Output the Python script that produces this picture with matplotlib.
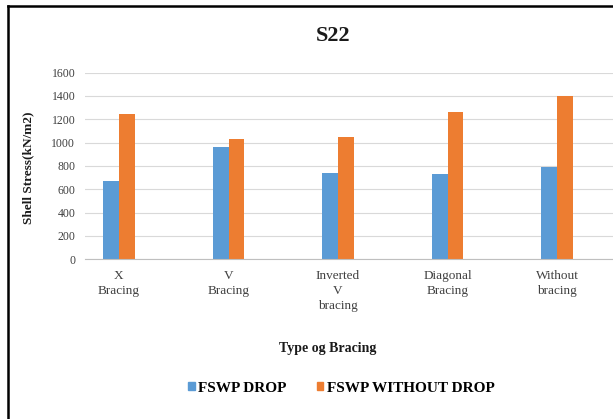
import matplotlib
matplotlib.use('Agg')
import matplotlib.pyplot as plt
import numpy as np
from matplotlib.lines import Line2D
from matplotlib.patches import Patch

categories = ['X\nBracing', 'V\nBracing', 'Inverted\nV\nbracing', 'Diagonal\nBracing', 'Without\nbracing']
fswp_drop = [672, 965, 738, 735, 795]
fswp_without_drop = [1243, 1030, 1050, 1260, 1400]
yticks = [0, 200, 400, 600, 800, 1000, 1200, 1400, 1600]

blue = '#5B9BD5'
orange = '#ED7D31'

plt.rcParams['font.family'] = ['Liberation Serif', 'DejaVu Serif']

W, H = 613, 419
fig = plt.figure(figsize=(W / 100, H / 100), dpi=100)
ax = fig.add_axes([85 / W, 1 - 259.3 / H, (W - 85) / W, (259.3 - 72.6) / H])

x = np.arange(len(categories))
w = 0.145
ax.bar(x - w / 2, fswp_drop, w, color=blue, zorder=3)
ax.bar(x + w / 2, fswp_without_drop, w, color=orange, zorder=3)

ax.set_ylim(0, 1600)
ax.set_yticks(yticks)
ax.set_xlim(-0.31, 4.51)
ax.set_xticks(x)
ax.set_xticklabels(categories, fontsize=9.5, color='#404040', linespacing=1.3)
ax.tick_params(axis='x', length=0, pad=8)
ax.tick_params(axis='y', length=0, pad=7, labelsize=8.5, labelcolor='#404040')
ax.grid(axis='y', color='#D9D9D9', linewidth=0.8, zorder=0)
for s in ['top', 'right', 'left']:
    ax.spines[s].set_visible(False)
ax.spines['bottom'].set_color('#BFBFBF')
ax.spines['bottom'].set_zorder(4)

fig.text(333 / W, 1 - 36 / H, 'S22', ha='center', va='center', fontsize=16, fontweight='bold', color='#1a1a1a')
fig.text(28 / W, 1 - 168 / H, 'Shell Stress(kN/m2)', ha='center', va='center', rotation=90,
         fontsize=9.5, fontweight='bold', color='#1a1a1a')
fig.text(328 / W, 1 - 348 / H, 'Type og Bracing', ha='center', va='center', fontsize=10,
         fontweight='bold', color='#1a1a1a')

handles = [Patch(color=blue), Patch(color=orange)]
fig.legend(handles, ['FSWP DROP', 'FSWP WITHOUT DROP'], loc='center',
           bbox_to_anchor=(341 / W, 1 - 388 / H), ncol=2, frameon=False,
           handlelength=0.45, handleheight=0.45, handletextpad=0.2, columnspacing=2.0,
           prop={'weight': 'bold', 'size': 11})

fig.add_artist(Line2D([8 / W, 8 / W], [0, 1 - 6 / H], color='black', linewidth=1.8))
fig.add_artist(Line2D([8 / W, 1], [1 - 6 / H, 1 - 6 / H], color='black', linewidth=1.8))

fig.savefig('out.png', dpi=100)
